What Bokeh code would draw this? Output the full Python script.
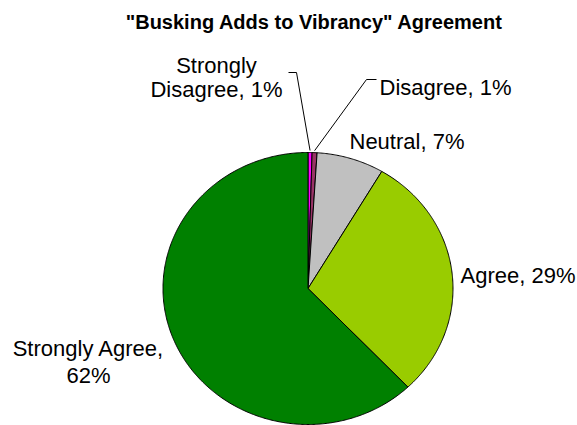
import numpy as np
from bokeh.plotting import figure
from bokeh.models import Range1d, ColumnDataSource
from bokeh.embed import file_html
from bokeh.resources import INLINE
from bokeh.core.properties import value

title_text = '"Busking Adds to Vibrancy" Agreement'
categories = ["Strongly Disagree", "Disagree", "Neutral", "Agree", "Strongly Agree"]
shares = [0.45, 0.55, 7.5, 29.4, 62.1]
pct_labels = ["1%", "1%", "7%", "29%", "62%"]
colors = ["#FF00FF", "#993366", "#C0C0C0", "#99CC00", "#008000"]

W, H = 577, 425
p = figure(width=W, height=H, output_backend="svg", toolbar_location=None,
           x_range=Range1d(0, W), y_range=Range1d(H, 0),
           x_axis_location=None, y_axis_location=None, min_border=0)
p.grid.visible = False
p.outline_line_color = None
p.background_fill_color = "white"

cx, cy, rx, ry = 307.5, 288.0, 145.0, 136.0
frac = np.array(shares) / np.sum(shares)
cum = np.concatenate([[0.0], np.cumsum(frac)]) * 2 * np.pi
xs, ys = [], []
for a0, a1 in zip(cum[:-1], cum[1:]):
    n = max(int((a1 - a0) * 120), 6)
    t = np.linspace(a0, a1, n)
    xs.append([cx] + list(cx + rx * np.sin(t)))
    ys.append([cy] + list(cy - ry * np.cos(t)))
src = ColumnDataSource(dict(xs=xs, ys=ys, color=colors, cat=categories))
p.patches("xs", "ys", source=src, fill_color="color", line_color="black", line_width=1)

# leader lines from slice mid-arc to label
mid = (cum[:-1] + cum[1:]) / 2
def arc_pt(i):
    return cx + rx * np.sin(mid[i]), cy - ry * np.cos(mid[i]) - 2
x0, y0 = arc_pt(0)
p.line([288, 296, x0], [72, 72, y0], line_color="black", line_width=1)
x1, y1 = arc_pt(1)
p.line([376, 366, x1], [79, 79, y1], line_color="black", line_width=1)

font = value("Liberation Sans")
fs = "22px"
p.text(x=[314], y=[21], text=[title_text], text_font=font, text_font_size="20px",
       text_font_style="bold", text_align="center", text_baseline="alphabetic", text_color="black")

lab = [f"{c}, {v}" for c, v in zip(categories, pct_labels)]
sd_first, sd_rest = categories[0].split(" ")[0], f"{categories[0].split(' ')[1]}, {pct_labels[0]}"
sa_first, sa_rest = f"{categories[4]},", pct_labels[4]

p.text(x=[216, 216], y=[65, 89], text=[sd_first, sd_rest], text_font=font, text_font_size=fs,
       text_align="center", text_baseline="alphabetic", text_color="black")
p.text(x=[379], y=[87], text=[lab[1]], text_font=font, text_font_size=fs,
       text_align="left", text_baseline="alphabetic", text_color="black")
p.text(x=[349], y=[141], text=[lab[2]], text_font=font, text_font_size=fs,
       text_align="left", text_baseline="alphabetic", text_color="black")
p.text(x=[460], y=[275], text=[lab[3]], text_font=font, text_font_size=fs,
       text_align="left", text_baseline="alphabetic", text_color="black")
p.text(x=[88, 88], y=[348, 375], text=[sa_first, sa_rest], text_font=font, text_font_size=fs,
       text_align="center", text_baseline="alphabetic", text_color="black")

open("out.html", "w").write(file_html(p, INLINE))
